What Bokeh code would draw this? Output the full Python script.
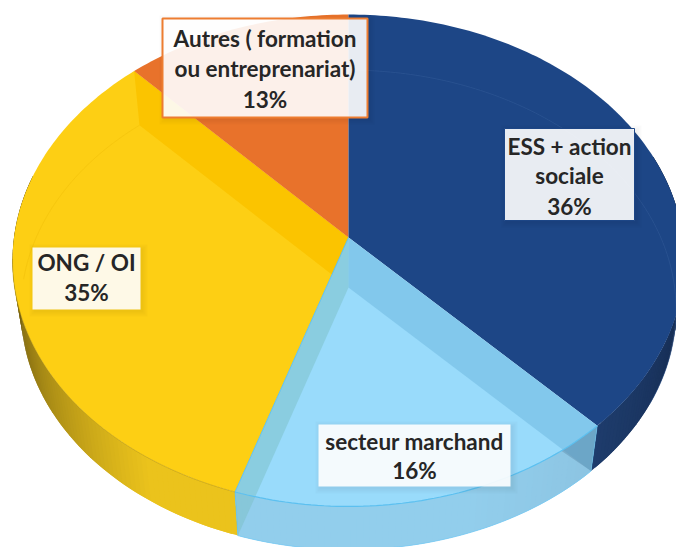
import math
from bokeh.plotting import figure
from bokeh.models import Range1d
from bokeh.core.properties import value
from bokeh.embed import file_html
from bokeh.resources import INLINE

# Data
categories = ["ESS + action sociale", "secteur marchand", "ONG / OI", "Autres ( formation ou entreprenariat)"]
percent_labels = [36, 16, 35, 13]
# Slice sizes as drawn in the picture (share of the turn)
drawn_shares = [37.8, 17.2, 33.0, 12.0]
slice_colors = ["#1D4686", "#99DBFB", "#FDCF14", "#E8722B"]

# Projection of the tilted disc
CX, CY = 348.0, 237.0
R, RY, K = 334.5, 243.8, 0.0934
DROP, SHRINK = 50.0, 0.975


def top(t):
    a = math.radians(t)
    u, v = math.sin(a), -math.cos(a)
    d = 1 - K * v
    return CX + R * u / d, CY + RY * v / d


def bot(t):
    x, y = top(t)
    return CX + SHRINK * (x - CX), CY + DROP + SHRINK * (y - CY)


def arc(fn, a, b, step=1.0):
    n = max(2, int(abs(b - a) / step) + 1)
    return [fn(a + (b - a) * i / (n - 1)) for i in range(n)]


def mix(c1, c2, f):
    f = max(0.0, min(1.0, f))
    return "#%02x%02x%02x" % tuple(int(round(c1[i] + (c2[i] - c1[i]) * f)) for i in range(3))


cum = [0.0]
for s in drawn_shares:
    cum.append(cum[-1] + s * 3.6)
a_navy, a_blue, a_yellow, a_orange = cum[1], cum[2], cum[3], 360.0

p = figure(width=676, height=547, x_range=Range1d(0, 676), y_range=Range1d(547, 0),
           output_backend="svg", toolbar_location=None, min_border=0,
           outline_line_color=None, background_fill_color="white")
p.axis.visible = False
p.grid.visible = False


def poly(points, color, alpha=1.0, line=None):
    p.patch([q[0] for q in points], [q[1] for q in points], fill_color=color, fill_alpha=alpha,
            line_color=line, line_alpha=alpha if line else 0)


def curve(points, color, alpha=1.0, width=1.0):
    p.line([q[0] for q in points], [q[1] for q in points], line_color=color, line_alpha=alpha, line_width=width)


def rim_strips(a, b, colorfn, step=1.0):
    xs, ys, cs = [], [], []
    n = int(abs(b - a) / step)
    for i in range(n):
        t0 = a + (b - a) * i / n
        t1 = a + (b - a) * min(n, i + 2) / n   # each strip overlaps the next one
        pts = [top(t0), top(t1), bot(t1), bot(t0)]
        xs.append([q[0] for q in pts])
        ys.append([q[1] for q in pts])
        cs.append(colorfn((i + 0.5) / n))
    p.patches(xs, ys, fill_color=cs, line_color=None)


# bottom disc slice of the see-through segment
poly([bot(a_navy)] + arc(bot, a_navy, a_blue) + [(CX, CY + DROP)], slice_colors[1])

# outer walls
rim_strips(a_blue, 285, lambda f: mix((235, 195, 28), (60, 48, 12), (f - 0.18) / 0.82))
rim_strips(a_navy, 70, lambda f: mix((30, 60, 108), (14, 30, 58), f))
rim_strips(a_navy, a_blue, lambda f: mix((140, 196, 226), (146, 206, 236), f * 2.5))

# top faces
poly([(CX, CY)] + arc(top, a_blue, a_yellow), slice_colors[2])
poly([(CX, CY), top(a_yellow), bot(a_yellow), (CX, CY + DROP)], "#FBC400")
poly([(CX, CY)] + arc(top, a_yellow, a_orange), slice_colors[3])
poly([(CX, CY)] + arc(top, 0, a_navy), slice_colors[0])
poly([(CX, CY)] + arc(top, a_navy, a_blue), slice_colors[1])

# inner walls seen through the light slice
rim_mid = bot(a_navy)
poly([(CX, CY), top(a_navy), bot(a_navy), (CX, CY + DROP)], "#6BB5DD", 0.5)
poly([(CX, CY), top(a_blue), bot(a_blue), (CX, CY + DROP)], "#7BBFC5", 0.5)

# darker corner where the right inner wall overlaps the outer wall
cross = a_navy + 10
for t in range(int(a_navy) + 1, int(a_blue)):
    tx, ty = top(t)
    bx, by = rim_mid
    s = (bx - CX) * (ty - (CY + DROP)) - (by - (CY + DROP)) * (tx - CX)
    if s > 0:
        cross = t
        break
poly(arc(top, a_navy, cross) + [bot(a_navy)], "#4A6F8E", 0.3)

# faint rim of the far side, and edge highlights
curve(arc(bot, 0, 118), "#3A629E", 0.4, 1)
curve(arc(bot, a_yellow, 272), "#F2C20C", 0.6, 1)
curve(arc(top, a_navy, a_blue), "#5CC0F0", 1, 1.2)
curve([(CX, CY), top(a_blue)], "#5CC0F0", 0.9, 1)
curve(arc(top, a_blue, 265), "#A88C12", 0.6, 0.8)
curve([top(a_navy), bot(a_navy)], "#5CC0F0", 0.5, 1)
curve([top(a_blue), bot(a_blue)], "#5CC0F0", 0.7, 1)
curve(arc(bot, a_navy, a_blue), "#7CCBF2", 0.8, 1)

# Labels
boxes = [
    (504, 634, 128, 220, "#1D4686", 1.0),
    (318, 510, 424, 486, None, 0),
    (32, 140, 247, 309, None, 0),
    (162, 367, 18, 117, "#ED7D31", 2.0),
]
line_rows = [
    ([146, 175, 206], ["ESS + action", "sociale", "36%"]),
    ([441, 470], ["secteur marchand", "16%"]),
    ([262, 292], ["ONG / OI", "35%"]),
    ([38, 68, 99], ["Autres ( formation", "ou entreprenariat)", "13%"]),
]
for (l, r, t, b, edge, w), (ys, texts) in zip(boxes, line_rows):
    for grow in (1, 3, 5):
        p.quad(left=l + 2 - grow, right=r + 2 + grow, top=t + 2 - grow, bottom=b + 2 + grow,
               fill_color="black", fill_alpha=0.018, line_color=None)
    p.quad(left=l, right=r, top=t, bottom=b, fill_color="white", fill_alpha=0.9,
           line_color=edge, line_width=w)
    cx = (l + r) / 2
    p.text(x=[cx] * len(ys), y=ys, text=texts, text_font=value("Lato"), text_font_style="bold",
           text_font_size="22.5px", text_color="#262626", text_align="center", text_baseline="middle")

open("out.html", "w").write(file_html(p, INLINE))
